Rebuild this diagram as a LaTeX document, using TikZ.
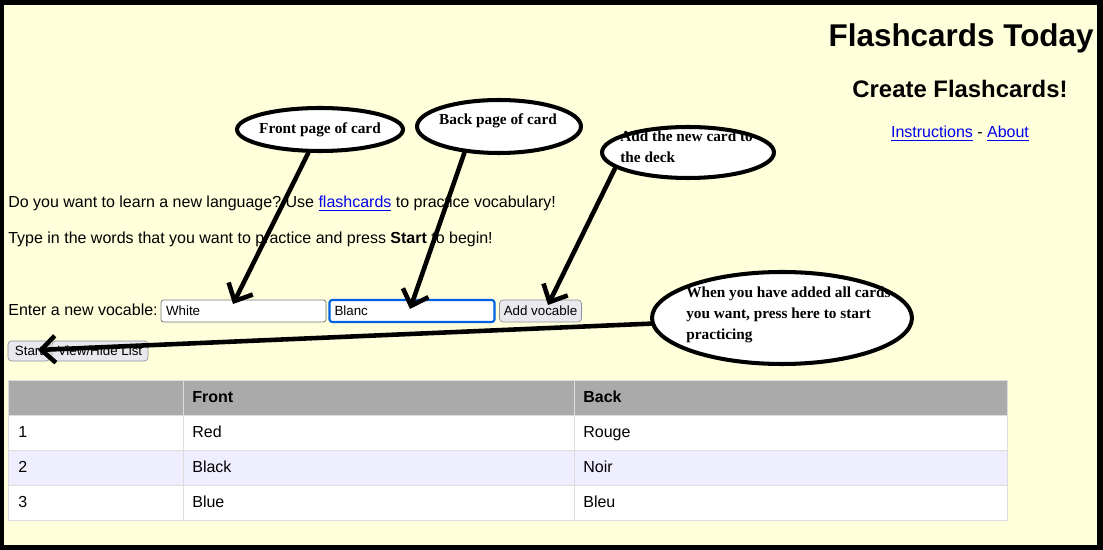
\documentclass[tikz,border=0pt]{standalone}
\usepackage{fontspec}
\setsansfont{Liberation Sans}
\newfontfamily\callfont{Liberation Serif}
\usepackage{xcolor}
\usepackage{tikz}
\usetikzlibrary{arrows.meta,shapes.geometric,positioning}
\frenchspacing
\definecolor{page}{HTML}{FFFFDC}
\definecolor{link}{HTML}{0000EE}
\definecolor{head}{HTML}{AAAAAA}
\definecolor{stripe}{HTML}{EEEEFF}
\definecolor{grid}{HTML}{DDDDDD}
\definecolor{btnfill}{HTML}{E9E9ED}
\definecolor{btnedge}{HTML}{8F8F9D}
\definecolor{fieldedge}{HTML}{767676}
\definecolor{focus}{HTML}{0060DF}
\tikzset{
  PageText/.style={font=\sffamily\fontsize{9.1}{11}\selectfont, inner sep=0pt, anchor=base west},
  FormText/.style={font=\sffamily\fontsize{7.6}{9}\selectfont},
  InputBox/.style={
    FormText, draw=fieldedge, fill=white, rounded corners=1.5pt,
    minimum height=0.44cm, text width=3.1cm,
    inner xsep=0.1cm, inner ysep=0pt, align=left
  },
  Button/.style={
    FormText, draw=btnedge, fill=btnfill, rounded corners=2pt,
    minimum height=0.4cm, inner sep=0pt
  },
  Callout/.style={ellipse, draw=black, line width=2.3pt, fill=white, inner sep=0pt},
  CallText/.style={font=\callfont\bfseries\fontsize{8.7}{11.8}\selectfont, inner sep=0pt, align=left},
  CallArrow/.style={line width=2.6pt, -{Straight Barb[length=2.8mm,width=5.4mm]}}
}
\newcommand{\Link}[1]{\textcolor{link}{\underline{#1}}}

\begin{document}
\begin{tikzpicture}[x=0.02cm, y=-0.02cm, line cap=round, line join=round]
  % page frame
  \fill[black] (0,0) rectangle (1103,550);
  \fill[page] (4,5) rectangle (1097,545);
  \useasboundingbox (0,0) rectangle (1103,550);

  % header
  \node[PageText, anchor=base east, font=\sffamily\bfseries\fontsize{17.9}{20}\selectfont] (title) at (1094,47) {Flashcards Today};
  \node[PageText, anchor=base, font=\sffamily\bfseries\fontsize{13.6}{16}\selectfont] (subtitle) at (960,98) {Create Flashcards!};
  \node[PageText, anchor=base] (links) at (960,138) {\Link{Instructions} - \Link{About}};

  % intro
  \node[PageText] (intro) at (8,208) {Do you want to learn a new language? Use \Link{flashcards} to practice vocabulary!};
  \node[PageText] (hint) at (8,244) {Type in the words that you want to practice and press \textbf{Start} to begin!};

  % form
  \node[PageText] (enter) at (8,316) {Enter a new vocable:};
  \node[InputBox] (front) at (243.5,311) {White};
  \node[InputBox, draw=focus, line width=1.2pt] (back) at (412,311) {Blanc};
  \node[Button, minimum width=1.64cm, minimum height=0.44cm] (add) at (540.5,311) {Add vocable};
  \node[Button, minimum width=0.84cm] (start) at (29,351) {Start};
  \node[Button, minimum width=1.92cm] (toggle) at (100,351) {View/Hide List};

  % table
  \fill[head] (8,380) rectangle (1007,415);
  \fill[white] (8,415) rectangle (1007,450);
  \fill[stripe] (8,450) rectangle (1007,485);
  \fill[white] (8,485) rectangle (1007,520);
  \draw[grid] (8,380) rectangle (1007,520);
  \draw[grid] (8,415) -- (1007,415) (8,450) -- (1007,450) (8,485) -- (1007,485);
  \draw[grid] (183,380) -- (183,520) (574,380) -- (574,520);

  \node[PageText, font=\sffamily\bfseries\fontsize{9.1}{11}\selectfont] (hfront) at (192,403) {Front};
  \node[PageText, font=\sffamily\bfseries\fontsize{9.1}{11}\selectfont] (hback) at (583,403) {Back};
  \node[PageText] (n1) at (18,438) {1};
  \node[PageText] (f1) at (192,438) {Red};
  \node[PageText] (b1) at (583,438) {Rouge};
  \node[PageText] (n2) at (18,473) {2};
  \node[PageText] (f2) at (192,473) {Black};
  \node[PageText] (b2) at (583,473) {Noir};
  \node[PageText] (n3) at (18,508) {3};
  \node[PageText] (f3) at (192,508) {Blue};
  \node[PageText] (b3) at (583,508) {Bleu};

  % callouts
  \node[Callout, minimum width=3.32cm, minimum height=0.86cm] (frontcall) at (320,129.5) {};
  \node[CallText] (frontlabel) at (frontcall) {Front page of card};
  \node[Callout, minimum width=3.28cm, minimum height=1.06cm] (backcall) at (499,126.5) {};
  \node[CallText] (backlabel) at (498,121) {Back page of card};
  \node[Callout, minimum width=3.44cm, minimum height=1.02cm] (addcall) at (688,152.5) {};
  \node[CallText, anchor=north west] (addlabel) at (620,131) {Add the new card to\\the deck};
  \node[Callout, minimum width=5.2cm, minimum height=1.84cm] (startcall) at (782,318) {};
  \node[CallText, anchor=north west] (startlabel) at (686,287) {When you have added all cards\\you want, press here to start\\practicing};

  \coordinate (frontTip) at (233,304);
  \coordinate (backTip) at (410,309);
  \coordinate (addTip) at (548,305);
  \coordinate (startTip) at (38,350);

  \draw[CallArrow] (frontcall) -- (frontTip);
  \draw[CallArrow] (backcall.217) -- (backTip);
  \draw[CallArrow] (addcall.192) -- (addTip);
  \draw[CallArrow] (startcall) -- (startTip);
\end{tikzpicture}
\end{document}
